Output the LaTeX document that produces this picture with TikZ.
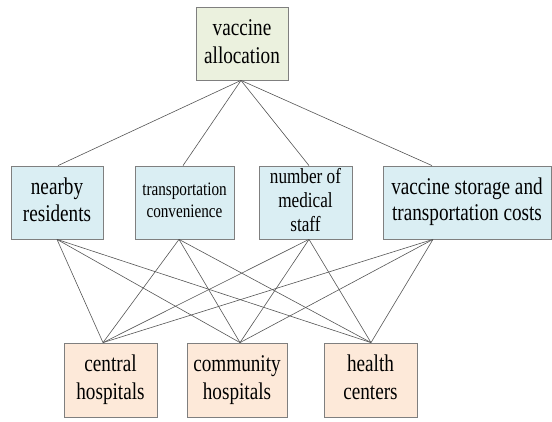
\documentclass[tikz,border=0pt]{standalone}
\usepackage{fontspec}
\setmainfont{Liberation Serif}[FakeStretch=0.8]
\definecolor{topfill}{HTML}{EBF1DE}
\definecolor{midfill}{HTML}{DAEEF3}
\definecolor{botfill}{HTML}{FDE9D9}
\definecolor{boxline}{HTML}{7F7F7F}
\definecolor{linkline}{HTML}{555555}
\begin{document}
\begin{tikzpicture}[x=1pt,y=-1pt,
  box/.style={draw=boxline, line width=0.8pt, minimum height=73pt, inner sep=0pt, align=center, text=black},
  link/.style={draw=linkline, line width=0.6pt},
  big/.style={font=\fontsize{24}{28}\selectfont}]
\useasboundingbox (0,0) rectangle (552,422);
\node[box, big, fill=topfill, minimum width=92pt] (goal) at (242,43.5) {\strut vaccine\\\strut allocation};
\node[box, fill=midfill, minimum width=92pt, font=\fontsize{24}{26.5}\selectfont] (m1) at (57,202.5) {\strut nearby\\\strut residents};
\node[box, fill=midfill, minimum width=99pt, font=\fontsize{19}{22}\selectfont] (m2) at (184.5,202.5) {\strut transportation\\\strut convenience};
\node[box, fill=midfill, minimum width=93pt, font=\fontsize{21.5}{24}\selectfont] (m3) at (305.5,202.5) {\strut number of\\\strut medical\\\strut staff};
\node[box, fill=midfill, minimum width=168pt, font=\fontsize{24}{25.7}\selectfont] (m4) at (467,202.5) {\strut vaccine storage and\\\strut transportation costs};
\node[box, big, fill=botfill, minimum width=93pt, minimum height=74pt] (b1) at (110.5,380) {\strut central\\\strut hospitals};
\node[box, big, fill=botfill, minimum width=100pt, minimum height=74pt] (b2) at (237,380) {\strut community\\\strut hospitals};
\node[box, big, fill=botfill, minimum width=93pt, minimum height=74pt] (b3) at (370.5,380) {\strut health\\\strut centers};
% top level links
\draw[link] ([xshift=-1pt]goal.south) -- ([xshift=1pt]m1.north);
\draw[link] ([xshift=-1pt]goal.south) -- ([xshift=-1.5pt]m2.north);
\draw[link] ([xshift=-1pt]goal.south) -- ([xshift=3.5pt]m3.north);
\draw[link] ([xshift=-1pt]goal.south) -- ([xshift=-35pt]m4.north);
% lower links
\foreach \m/\dx in {m1/0, m2/-5.5, m3/3.5, m4/-34}{
  \draw[link] ([xshift=\dx pt]\m.south) -- ([xshift=-7.5pt]b1.north);
  \draw[link] ([xshift=\dx pt]\m.south) -- ([xshift=3pt]b2.north);
  \draw[link] ([xshift=\dx pt]\m.south) -- ([xshift=0.5pt]b3.north);
}
\end{tikzpicture}
\end{document}
